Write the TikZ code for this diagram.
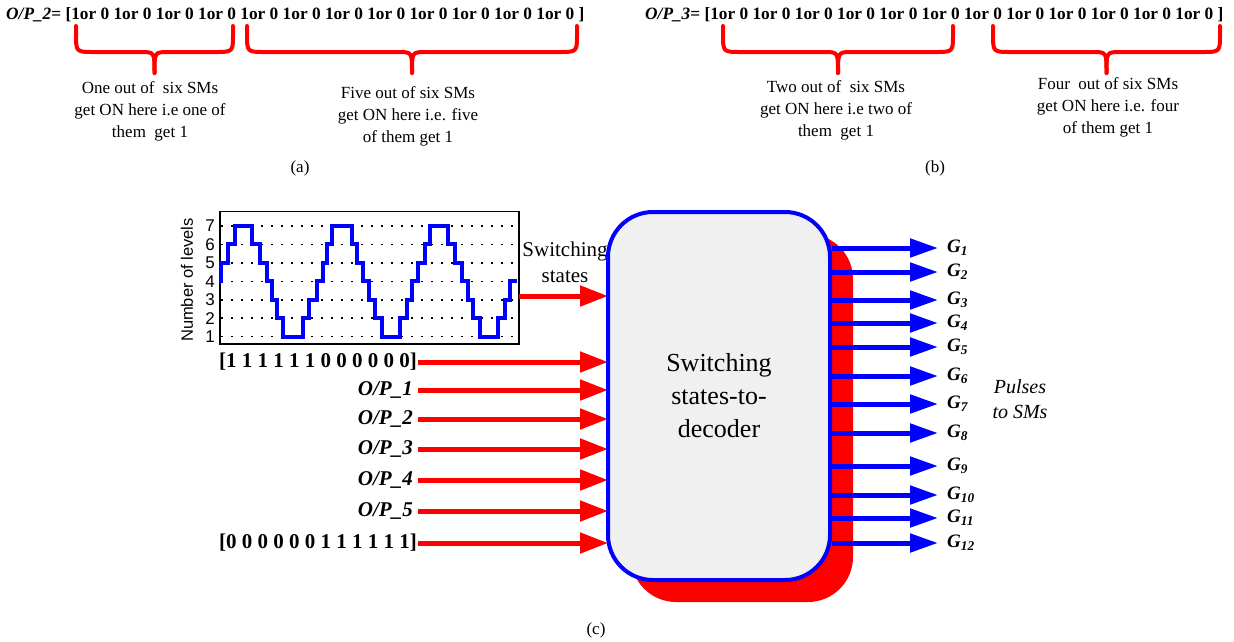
\documentclass[tikz,border=0pt]{standalone}
\usepackage{fontspec}
\setmainfont{Liberation Serif}
\setsansfont{Liberation Sans}
\usetikzlibrary{arrows.meta,shadows}
\newcommand\fs[2]{\fontsize{#1}{#2}\selectfont}
\newcommand\mybrace[2]{%
  \pgfmathsetmacro\xm{(#1+#2)/2}%
  \draw[brc] (#1,26) -- (#1,34) .. controls (#1,52) .. (#1+18,52) -- (\xm-14,52) .. controls (\xm,52) .. (\xm,73);
  \draw[brc] (#2,26) -- (#2,34) .. controls (#2,52) .. (#2-18,52) -- (\xm+14,52) .. controls (\xm,52) .. (\xm,73);}
\begin{document}
\begin{tikzpicture}[x=1pt,y=-1pt,
  redarrow/.style={red, line width=5pt, -{Triangle[length=28pt,width=20pt]}},
  bluearrow/.style={blue, line width=5pt, -{Triangle[length=28pt,width=18pt]}},
  brc/.style={red, line width=4pt, line cap=round, line join=round},
  desc/.style={align=center, font=\fs{17}{22}},
  toptext/.style={anchor=west, inner sep=0pt, font=\fs{17.3}{20}\bfseries},
  captext/.style={font=\fs{17}{20}},
  inlab/.style={anchor=east, inner sep=1pt, font=\fs{21}{25}\bfseries},
  oplab/.style={anchor=east, inner sep=1pt, font=\fs{21}{25}\bfseries\itshape},
  glab/.style={anchor=west, inner sep=1pt, font=\fs{19}{20}\bfseries\itshape},
  bigbox/.style={draw=blue, line width=4pt, fill=gray!12, rounded corners=45pt,
    minimum width=222pt, minimum height=368pt, align=center, font=\fs{26}{33},
    drop shadow={shadow xshift=23pt, shadow yshift=-22pt, fill=red, opacity=1}},
  dotrow/.style={line width=1.5pt, dash pattern=on 1.5pt off 8.5pt},
  wave/.style={blue, line width=4pt}
]
\useasboundingbox (0,0) rectangle (1234,641);

% ---------- (a) ----------
\node[toptext] (t2) at (6,15) {\textit{O/P\_2}= [1or 0 1or 0 1or 0 1or 0 1or 0 1or 0 1or 0 1or 0 1or 0 1or 0 1or 0 1or 0 ]};
\mybrace{76}{233}
\mybrace{247}{577}
\node[desc] (d1) at (150,111) {One out of\ \ six SMs\\get ON here i.e one of\\them\ \ get 1};
\node[desc] (d2) at (408,116) {Five out of six SMs\\get ON here i.e. five\\of them get 1};
\node[captext] (capa) at (300,168) {(a)};

% ---------- (b) ----------
\node[toptext] (t3) at (645,15) {\textit{O/P\_3}= [1or 0 1or 0 1or 0 1or 0 1or 0 1or 0 1or 0 1or 0 1or 0 1or 0 1or 0 1or 0 ]};
\mybrace{723}{953}
\mybrace{993}{1220}
\node[desc] (d3) at (836,110) {Two out of\ \ six SMs\\get ON here i.e two of\\them\ \ get 1};
\node[desc] (d4) at (1108,107) {Four\ \ out of six SMs\\get ON here i.e. four\\of them get 1};
\node[captext] (capb) at (935,168) {(b)};

% ---------- (c) graph ----------
\node[draw, line width=1.5pt, minimum width=299pt, minimum height=132.5pt, inner sep=0pt, anchor=north west] (graph) at (219.3,210.7) {};
\begin{scope}[shift={(170,200)}, x=0.33333pt, y=-0.33333pt]
  \foreach \L in {1,...,7}{
    \draw[dotrow] (154,{410-(\L-1)*55.33}) -- (1043,{410-(\L-1)*55.33});
    \node[anchor=east, inner sep=1pt, font=\sffamily\fs{17}{17}] at (138,{410-(\L-1)*55.33}) {\L};
  }
  \draw[wave] (148,244) -| (153,188.7) -| (175,133.3) -| (195,78) -| (245,133.3) -| (270,188.7) -| (290,244) -| (305,299.3) -| (322,354.7) -| (338,410) -| (398,354.7) -| (418,299.3) -| (440,244) -| (458,188.7) -| (470,133.3) -| (485,78) -| (545,133.3) -| (560,188.7) -| (580,244) -| (598,299.3) -| (615,354.7) -| (635,410) -| (690,354.7) -| (710,299.3) -| (725,244) -| (745,188.7) -| (765,133.3) -| (780,78) -| (835,133.3) -| (855,188.7) -| (875,244) -| (893,299.3) -| (910,354.7) -| (930,410) -| (985,354.7) -| (1005,299.3) -| (1020,244) -- (1040,244);
\end{scope}
\node[rotate=90, font=\sffamily\fs{16.5}{18}] (ylab) at (187,280) {Number of levels};

% ---------- inputs ----------
\node[inlab] (inA) at (418,362) {[1 1 1 1 1 1 0 0 0 0 0 0]};
\node[oplab] (op1) at (414,390) {O/P\_1};
\node[oplab] (op2) at (414,419) {O/P\_2};
\node[oplab] (op3) at (414,449) {O/P\_3};
\node[oplab] (op4) at (414,480) {O/P\_4};
\node[oplab] (op5) at (414,511) {O/P\_5};
\node[inlab] (inB) at (418,543) {[0 0 0 0 0 0 1 1 1 1 1 1]};
\node[align=center, font=\fs{21}{26}] (sslab) at (565,262) {Switching\\states};
\coordinate (ss) at (519,296);

\coordinate (boxc) at (719,396);
\coordinate (boxw) at (608,396);
\draw[redarrow] (ss) -- (ss -| boxw);
\draw[redarrow] (inA.east) -- (inA.east -| boxw);
\foreach \n in {op1,op2,op3,op4,op5}{
  \draw[redarrow] (\n -| inA.east) -- (\n -| boxw);
}
\draw[redarrow] (inB.east) -- (inB.east -| boxw);

% ---------- main box ----------
\node[bigbox] (box) at (boxc) {Switching\\states-to-\\decoder};

% ---------- outputs ----------
\foreach \k/\yy in {1/248,2/272,3/300,4/323,5/347,6/376,7/404,8/433,9/466,10/495,11/518,12/543}{
  \node[glab] (G\k) at (946,\yy) {G\textsubscript{\k}};
  \draw[bluearrow] (G\k.west -| box.east) -- ([xshift=-8pt]G\k.west);
}
\node[align=center, font=\fs{20}{25}\itshape] (pulses) at (1020,399) {Pulses\\to SMs};

\node[captext] (capc) at (596,630) {(c)};
\end{tikzpicture}
\end{document}
